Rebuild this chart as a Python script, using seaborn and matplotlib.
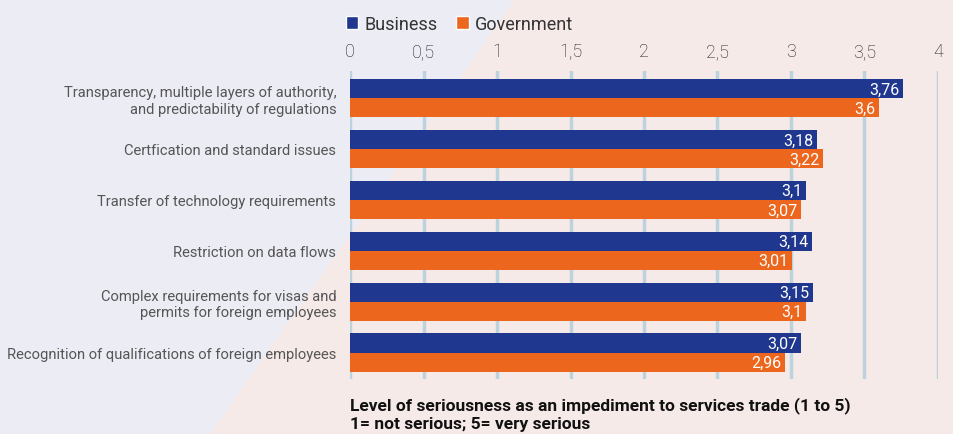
import matplotlib
matplotlib.use("Agg")
import matplotlib.pyplot as plt
from matplotlib.patches import Patch, Polygon
import pandas as pd
import seaborn as sns

# chart data
categories = [
    "Transparency, multiple layers of authority,\nand predictability of regulations",
    "Certfication and standard issues",
    "Transfer of technology requirements",
    "Restriction on data flows",
    "Complex requirements for visas and\npermits for foreign employees",
    "Recognition of qualifications of foreign employees",
]
groups = ["Business", "Government"]
business = [3.76, 3.18, 3.1, 3.14, 3.15, 3.07]
government = [3.6, 3.22, 3.07, 3.01, 3.1, 2.96]
xticks = [0, 0.5, 1, 1.5, 2, 2.5, 3, 3.5, 4]

BLUE = "#1F378E"
ORANGE = "#EC661E"
GRID = "#BCD2DC"

df = pd.DataFrame({
    "category": categories * 2,
    "group": [groups[0]] * len(categories) + [groups[1]] * len(categories),
    "value": business + government,
})

sns.set_theme(style="white")
plt.rcParams["font.family"] = ["Roboto", "DejaVu Sans"]

fig = plt.figure(figsize=(9.54, 4.35), dpi=100)
fig.patch.set_facecolor("#F5EAE8")
# two-tone diagonal background
fig.patches.append(Polygon([(0, 1), (0.54, 1), (0.22, 0), (0, 0)], closed=True,
                           transform=fig.transFigure, facecolor="#ECECF5",
                           edgecolor="none", zorder=-10))

ax = fig.add_axes([0.3669, 0.1264, 0.6163, 0.7081])
ax.set_facecolor("none")

sns.barplot(data=df, y="category", x="value", hue="group", orient="h",
            palette=[BLUE, ORANGE], width=0.75, saturation=1, legend=False,
            linewidth=0, edgecolor="none", ax=ax, zorder=3)

ax.set_xlim(0, 4)
ax.set_ylim(5.52, -0.53)
ax.set_xticks(xticks)
ax.set_xticklabels([str(t).replace(".0", "").replace(".", ",") for t in xticks])
ax.xaxis.tick_top()
ax.tick_params(axis="x", length=0, pad=8, labelsize=13, labelcolor="#1E1E1E")
ax.tick_params(axis="y", length=0, pad=10, labelsize=10.6, labelcolor="#555555")
for lbl in ax.get_xticklabels():
    lbl.set_fontweight("light")
ax.set_xlabel("")
ax.set_ylabel("")
for s in ax.spines.values():
    s.set_visible(False)
ax.grid(axis="x", color=GRID, linewidth=2.5, zorder=0)
ax.set_axisbelow(True)

# value labels inside bar ends
for cont in ax.containers:
    for bar in cont:
        w = bar.get_width()
        ax.text(w - 0.025, bar.get_y() + bar.get_height() / 2 + 0.01,
                str(w).replace(".", ","), ha="right", va="center",
                color="white", fontsize=11.5, zorder=5)

handles = [Patch(facecolor=BLUE, label=groups[0]),
           Patch(facecolor=ORANGE, label=groups[1])]
fig.legend(handles=handles, loc="center left", bbox_to_anchor=(0.3625, 1 - 25 / 435),
           ncol=2, frameon=False, fontsize=13, handlelength=0.7, handleheight=0.7,
           handletextpad=0.35, columnspacing=1.0, borderpad=0, borderaxespad=0,
           labelcolor="#333333")

fig.text(0.3669, 1 - 406 / 435,
         "Level of seriousness as an impediment to services trade (1 to 5)",
         ha="left", va="center", fontsize=12.5, fontweight="bold", color="#111111")
fig.text(0.3669, 1 - 425 / 435, "1= not serious; 5= very serious",
         ha="left", va="center", fontsize=12.5, fontweight="bold", color="#111111")

fig.savefig("out.png", dpi=100, facecolor=fig.get_facecolor())
